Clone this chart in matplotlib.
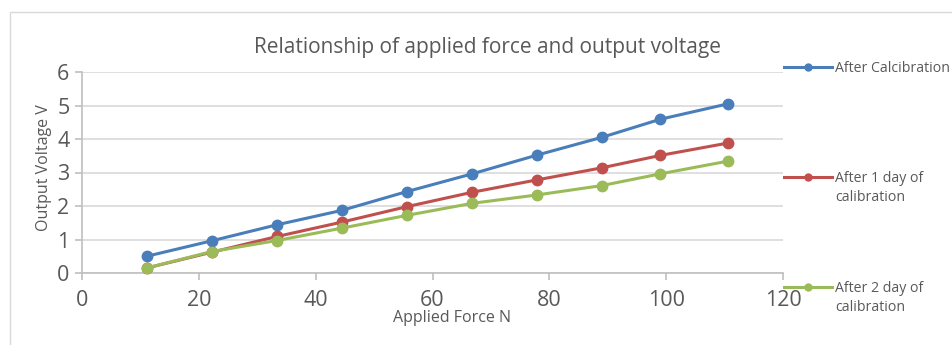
import matplotlib.pyplot as plt
from matplotlib.lines import Line2D
from matplotlib.patches import Rectangle

# Applied force (N) and measured output voltage (V)
force = [11.1, 22.2, 33.4, 44.5, 55.6, 66.8, 77.9, 89.0, 99.0, 110.6]
v_after_cal = [0.50, 0.96, 1.44, 1.87, 2.43, 2.96, 3.52, 4.05, 4.59, 5.05]
v_after_1day = [0.15, 0.62, 1.09, 1.52, 1.98, 2.41, 2.78, 3.14, 3.51, 3.88]
v_after_2day = [0.15, 0.64, 0.97, 1.34, 1.72, 2.08, 2.33, 2.61, 2.96, 3.34]

labels = ['After Calcibration', 'After 1 day of\ncalibration', 'After 2 day of\ncalibration']
colors = ['#4a7ebb', '#c0504d', '#9bbb59']

plt.rcParams['font.family'] = ['Open Sans', 'DejaVu Sans']
text_col = '#595959'
grid_col = '#d9d9d9'

W, H = 952, 345
fig = plt.figure(figsize=(W / 100, H / 100), dpi=100)
ax = fig.add_axes([82 / W, 1 - 273 / H, (783 - 82) / W, (273 - 72) / H])

# chart area border
fig.patches.append(Rectangle((10 / W, -0.1), 1.2, 1 - 12 / H + 0.1,
                             transform=fig.transFigure, fill=False,
                             edgecolor='#d9d9d9', linewidth=1))

for y, c in zip([v_after_cal, v_after_1day, v_after_2day], colors):
    ax.plot(force, y, color=c, linewidth=2.2, marker='o', markersize=7.5,
            zorder=3, clip_on=False)

ax.set_xlim(0, 120)
ax.set_ylim(0, 6)
ax.set_xticks(range(0, 121, 20))
ax.set_yticks(range(0, 7))
ax.grid(axis='y', color=grid_col, linewidth=1.2)
ax.set_axisbelow(True)

for s in ['top', 'right']:
    ax.spines[s].set_visible(False)
for s in ['left', 'bottom']:
    ax.spines[s].set_color('#bfbfbf')
    ax.spines[s].set_linewidth(1.2)
ax.tick_params(colors='#bfbfbf', labelcolor=text_col, labelsize=15.5,
               length=5, width=1.2)
ax.tick_params(axis='x', pad=7)
ax.tick_params(axis='y', pad=4)

fig.text(488 / W, 1 - 47 / H, 'Relationship of applied force and output voltage',
         ha='center', va='center', fontsize=15, color=text_col)
fig.text(452 / W, 1 - 318 / H, 'Applied Force N', ha='center', va='center',
         fontsize=11.5, color=text_col)
fig.text(44 / W, 1 - 168 / H, 'Output Voltage V', ha='center', va='center',
         rotation=90, fontsize=11.5, color=text_col)

# legend entries spread down the right side, key aligned with first text line
legend_y = [67, 177, 287]
for lab, c, ly in zip(labels, colors, legend_y):
    yf = 1 - ly / H
    fig.add_artist(Line2D([784 / W, 832 / W], [yf, yf], color=c, linewidth=2.2,
                          transform=fig.transFigure))
    fig.add_artist(Line2D([808 / W], [yf], color=c, marker='o', markersize=5,
                          transform=fig.transFigure))
    fig.text(835 / W, yf + 6 / H, lab, ha='left', va='top', fontsize=10.2,
             color=text_col, linespacing=1.4)

fig.savefig('out.png', dpi=100)
